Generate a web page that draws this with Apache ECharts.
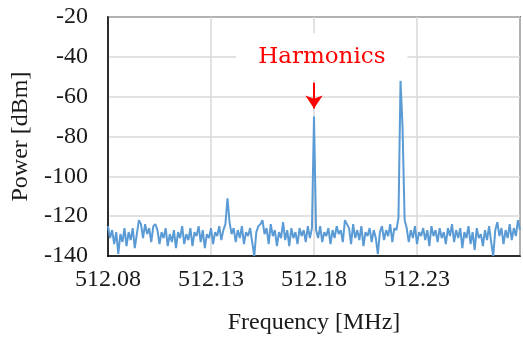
<!DOCTYPE html>
<html lang="en">
<head>
<meta charset="UTF-8">
<title>Spectrum</title>
<script src="https://cdn.jsdelivr.net/npm/echarts@6/dist/echarts.min.js"></script>
<style>
  html, body { margin: 0; padding: 0; background: #fff; }
  #chart { width: 523px; height: 340px; }
</style>
</head>
<body>
<div id="chart"></div>
<script>
// frequency axis: start + i * step (MHz)
var freqStart = 512.08;
var freqStep = 0.001;
var xTicks = [512.08, 512.13, 512.18, 512.23];
var yTicks = [-20, -40, -60, -80, -100, -120, -140];

// measured power in dBm, one value per step
var power = [
  -125, -131, -127, -134, -128, -139, -129, -133, -126, -135,
  -128, -132, -126, -136, -129, -122, -124, -131, -124, -129,
  -126, -133, -125, -124, -127, -134, -128, -131, -126, -135,
  -129, -133, -127, -136, -128, -131, -125, -134, -129, -132,
  -126, -135, -128, -130, -125, -133, -127, -136, -129, -131,
  -126, -134, -128, -130, -125, -132, -127, -124, -111, -123,
  -129, -126, -133, -127, -131, -125, -134, -128, -130, -126,
  -133, -140, -128, -125, -124, -122, -129, -126, -134, -124,
  -130, -127, -135, -128, -131, -123, -132, -127, -135, -126,
  -131, -128, -134, -126, -130, -127, -133, -125, -131, -126,
  -70, -127, -131, -125, -133, -128, -130, -126, -134, -127,
  -131, -125, -129, -127, -133, -122, -124, -126, -134, -124,
  -131, -127, -132, -125, -135, -128, -130, -126, -133, -127,
  -131, -139, -128, -125, -132, -127, -130, -124, -133, -126,
  -127, -121, -52, -76, -122, -126, -133, -127, -131, -125,
  -134, -128, -130, -126, -132, -127, -135, -125, -130, -127,
  -133, -126, -131, -128, -134, -126, -130, -124, -133, -127,
  -131, -126, -136, -128, -131, -125, -134, -128, -137, -126,
  -131, -129, -135, -127, -132, -125, -133, -140, -127, -123,
  -130, -126, -134, -127, -131, -124, -132, -126, -130, -122,
  -127
];

var annotText = 'Harmonics';
var annotFreq = 512.18;

var serie = [];
for (var i = 0; i < power.length; i++) {
  serie.push([i * freqStep, power[i]]);
}

var myChart = echarts.init(document.getElementById('chart'), null, { renderer: 'canvas' });

var serif = "'Liberation Serif', 'Times New Roman', serif";

var options = {
  animation: false,
  grid: {
    left: 108,
    top: 17,
    width: 417,
    height: 243,
    show: true,
    borderColor: '#000',
    borderWidth: 1.5
  },
  xAxis: {
    type: 'value',
    min: 0,
    max: 0.2,
    interval: 0.05,
    name: 'Frequency [MHz]',
    nameLocation: 'middle',
    nameGap: 55,
    nameTextStyle: { fontFamily: serif, fontSize: 24, color: '#1a1a1a' },
    axisLine: { show: true, lineStyle: { color: '#000', width: 1.5 } },
    axisTick: { show: false },
    axisLabel: {
      fontFamily: serif,
      fontSize: 24,
      color: '#1a1a1a',
      margin: 12,
      formatter: function (v) {
        var f = freqStart + v;
        for (var k = 0; k < xTicks.length; k++) {
          if (Math.abs(xTicks[k] - f) < 1e-6) return xTicks[k].toFixed(2);
        }
        return '';
      }
    },
    splitLine: { show: true, lineStyle: { color: '#d9d9d9', width: 1.5 } }
  },
  yAxis: {
    type: 'value',
    min: -140,
    max: -20,
    interval: 20,
    name: 'Power [dBm]',
    nameLocation: 'middle',
    nameGap: 74,
    nameTextStyle: { fontFamily: serif, fontSize: 24, color: '#1a1a1a' },
    axisLine: { show: true, lineStyle: { color: '#000', width: 1.5 } },
    axisTick: { show: false },
    axisLabel: {
      fontFamily: serif,
      fontSize: 24,
      color: '#1a1a1a',
      margin: 20,
      formatter: function (v) {
        return yTicks.indexOf(v) >= 0 ? String(v) : '';
      }
    },
    splitLine: { show: true, lineStyle: { color: '#d9d9d9', width: 1.5 } }
  },
  series: [{
    name: 'Power',
    type: 'line',
    data: serie,
    showSymbol: false,
    symbol: 'none',
    lineStyle: { color: '#5b9bd5', width: 2 },
    clip: true,
    markPoint: {
      silent: true,
      symbol: 'rect',
      symbolSize: 0,
      data: [{
        coord: [annotFreq - freqStart + 0.0038, -40],
        label: {
          show: true,
          position: 'inside',
          formatter: annotText,
          fontFamily: "'DejaVu Serif', serif",
          fontSize: 23,
          color: '#ff0000',
          backgroundColor: '#fff',
          padding: [12, 22, 12, 22]
        }
      }]
    },
    markLine: {
      silent: true,
      symbol: ['none', 'arrow'],
      symbolSize: [13, 13],
      label: { show: false },
      lineStyle: { color: '#ff0000', width: 2, type: 'solid' },
      data: [[
        { coord: [annotFreq - freqStart, -53] },
        { coord: [annotFreq - freqStart, -66] }
      ]]
    }
  }]
};

myChart.setOption(options);
</script>
</body>
</html>
